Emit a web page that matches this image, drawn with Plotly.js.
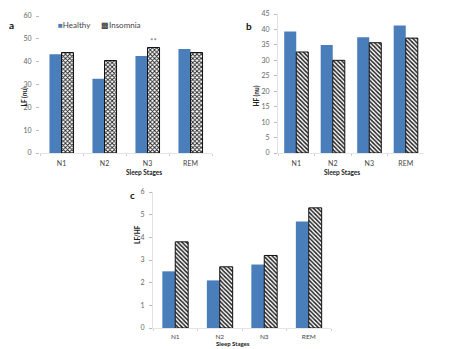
<!DOCTYPE html>
<html>
<head>
<meta charset="utf-8">
<script src="https://cdn.plot.ly/plotly-3.0.1.min.js"></script>
<style>
  html, body { margin: 0; padding: 0; background: #fff; }
  #chart { width: 459px; height: 349px; }
</style>
</head>
<body>
<div id="chart"></div>
<script>
// Sleep stages and HRV measures per group
const stages = ['N1', 'N2', 'N3', 'REM'];

const lfHealthy = [43.3, 32.5, 42.5, 45.5];
const lfInsomnia = [44.0, 40.5, 46.2, 44.0];

const hfHealthy = [39.3, 35.0, 37.5, 41.3];
const hfInsomnia = [32.7, 30.0, 35.7, 37.2];

const ratioHealthy = [2.5, 2.1, 2.8, 4.7];
const ratioInsomnia = [3.8, 2.7, 3.2, 5.3];

const blue = '#4a7ebb';
const font = 'Lato, "Liberation Sans", sans-serif';

function pair(h, ins, xa, ya, w, hatch) {
  return [
    {
      type: 'bar', name: 'Healthy', x: stages, y: h, xaxis: xa, yaxis: ya,
      width: w, offset: -w,
      marker: { color: blue, line: { width: 0 } },
      showlegend: false, hoverinfo: 'x+y'
    },
    {
      type: 'bar', name: 'Insomnia', x: stages, y: ins, xaxis: xa, yaxis: ya,
      width: w, offset: 0,
      marker: {
        color: 'white',
        line: { color: '#111', width: 1 },
        pattern: { shape: hatch, fgcolor: '#222', bgcolor: '#fff', size: 3, solidity: 0.5 }
      },
      showlegend: false, hoverinfo: 'x+y'
    }
  ];
}

const data = [].concat(
  pair(lfHealthy, lfInsomnia, 'x', 'y', 0.28, 'x'),
  pair(hfHealthy, hfInsomnia, 'x2', 'y2', 0.33, '\\'),
  pair(ratioHealthy, ratioInsomnia, 'x3', 'y3', 0.29, '\\')
);

const H = 349, W = 459;
const fx = px => px / W;
const fy = py => 1 - py / H;

function xax(d, standoff, size) {
  return {
    domain: d, type: 'category', categoryorder: 'array', categoryarray: stages,
    range: [-0.5, 3.5], showgrid: false, zeroline: false,
    showline: true, linecolor: '#e6e6e6', linewidth: 1,
    ticks: 'outside', tickson: 'boundaries', ticklen: 2, tickcolor: '#d0d0d0',
    ticklabelstandoff: standoff,
    tickfont: { family: font, size: size, color: '#444' }, fixedrange: true
  };
}
function yax(d, r, dt, line) {
  return {
    domain: d, range: r, dtick: dt, showgrid: false, zeroline: false,
    showline: line, linecolor: '#e2e2e2', linewidth: 1,
    ticks: 'outside', ticklen: 3, tickcolor: '#bbb',
    ticklabelstandoff: 3,
    tickfont: { family: font, size: 7, color: '#666' }, fixedrange: true
  };
}

const label = (t, x, y, size, extra) => Object.assign({
  text: t, xref: 'paper', yref: 'paper', x: fx(x), y: fy(y), showarrow: false,
  font: { family: font, size: size, color: '#222' }
}, extra || {});

const layout = {
  width: W, height: H,
  margin: { l: 0, r: 0, t: 0, b: 0 },
  paper_bgcolor: '#fff', plot_bgcolor: '#fff',
  font: { family: font, color: '#333' },
  showlegend: false,
  xaxis: xax([fx(40), fx(212)], 4, 7),
  yaxis: yax([fy(153), fy(16)], [0, 60], 10, false),
  xaxis2: Object.assign(xax([fx(278), fx(424)], 4, 7), { anchor: 'y2' }),
  yaxis2: Object.assign(yax([fy(153), fy(14)], [0, 45], 5, true), { anchor: 'x2' }),
  xaxis3: Object.assign(xax([fx(153), fx(331)], 2, 6.5), { anchor: 'y3' }),
  yaxis3: Object.assign(yax([fy(328), fy(192)], [0, 6], 1, true), { anchor: 'x3' }),
  annotations: [
    // legend (panel a)
    label('<span style="color:' + blue + '">■</span>Healthy', 56, 18, 8, { xanchor: 'left', font: { family: font, size: 8, color: '#444' } }),
    label('<span style="color:#222">▩</span>Insomnia', 99, 18, 8, { xanchor: 'left', font: { family: font, size: 8, color: '#444' } }),
    // panel letters
    label('<b>a</b>', 7, 17, 10, { font: { family: font, size: 10, color: '#111' } }),
    label('<b>b</b>', 249, 18, 10, { font: { family: font, size: 10, color: '#111' } }),
    label('<b>c</b>', 128, 195, 10, { font: { family: font, size: 10, color: '#111' } }),
    // axis titles
    label('<b>LF (nu)</b>', 18, 85, 6.5, { textangle: -90 }),
    label('<b>HF (nu)</b>', 256, 84, 6.5, { textangle: -90 }),
    label('<b>LF/HF</b>', 132, 246, 6.5, { textangle: -90 }),
    label('<b>Sleep Stages</b>', 124, 172, 6.5),
    label('<b>Sleep Stages</b>', 362, 172, 6.5),
    label('<b>Sleep Stages</b>', 233, 348, 6, { yanchor: 'bottom', y: 0 }),
    // significance marker over insomnia N3 (LF)
    { text: '**', xref: 'x', yref: 'y', x: 2 + 0.14, y: lfInsomnia[2], yanchor: 'bottom', yshift: 0,
      showarrow: false, font: { family: font, size: 8, color: '#777' } }
  ]
};

Plotly.newPlot('chart', data, layout, { displayModeBar: false, staticPlot: true });
</script>
</body>
</html>
